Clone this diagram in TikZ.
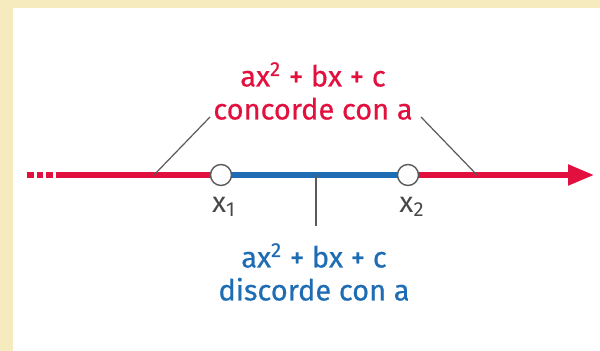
\documentclass[tikz,border=0pt]{standalone}
\usepackage{fontspec}
\setmainfont{Fira Sans}
\newfontfamily\lblfont{Fira Sans}[FakeBold=0.5]
\usetikzlibrary{arrows.meta}
\definecolor{cred}{HTML}{E2103E}
\definecolor{cblue}{HTML}{1E6DB4}
\definecolor{cframe}{HTML}{F6EBBE}
\definecolor{cgray}{HTML}{5A5A5A}
\tikzset{
  axisline/.style={line width=2.6pt},
  pt/.style={circle,draw=cgray,fill=white,line width=0.7pt,minimum size=10.5pt,inner sep=0pt},
  lbl/.style={font=\lblfont\fontsize{14.5}{16.5}\selectfont,align=center,inner sep=0pt},
  tick/.style={draw=cgray,line width=0.6pt},
  xlab/.style={font=\fontsize{14.5}{16}\selectfont,text=cgray!80!black,inner sep=0pt}
}
\begin{document}
\begin{tikzpicture}[x=0.5pt,y=-0.5pt]
\useasboundingbox (0,0) rectangle (600,351);
\fill[cframe] (0,0) rectangle (600,351);
\fill[white] (13,8) rectangle (600,351);
% axis
\coordinate (d0) at (27,175);
\coordinate (s0) at (57,175);
\coordinate (tip) at (594,175);
\coordinate (pl) at (154,175);
\coordinate (pr) at (477,175);
\coordinate (pm) at (316,175);
\coordinate (c1) at (221,175);
\coordinate (c2) at (408,175);
\draw[axisline,cred,dash pattern=on 3.3pt off 1.5pt] (d0) -- (s0);
\draw[axisline,cred] (s0) -- (c1);
\draw[axisline,cblue] (c1) -- (c2);
\draw[axisline,cred,-{Triangle[length=13pt,width=10pt]}] (c2) -- (tip);
\node[pt] (x1) at (c1) {};
\node[pt] (x2) at (c2) {};
% labels
\node[lbl,text=cred] (top) at (313,91) {ax\textsuperscript{2} + bx + c\\concorde con a};
\node[lbl,text=cblue] (bot) at (314,272) {ax\textsuperscript{2} + bx + c\\discorde con a};
\coordinate (tl) at (210,117);
\coordinate (tr) at (421,117);
\coordinate (bm) at (316,226);
\draw[tick] (tl) -- (pl);
\draw[tick] (tr) -- (pr);
\draw[tick] (pm) -- (bm);
\node[xlab] (lx1) at (224,207) {x\textsubscript{1}};
\node[xlab] (lx2) at (412,207) {x\textsubscript{2}};
\end{tikzpicture}
\end{document}
